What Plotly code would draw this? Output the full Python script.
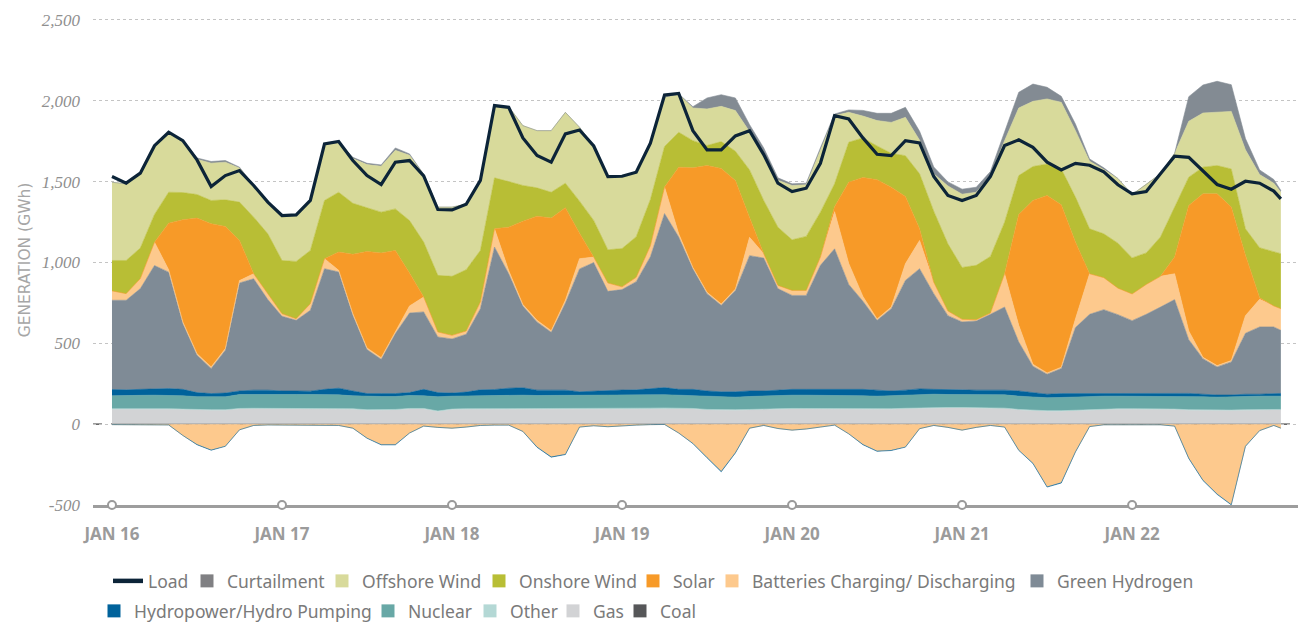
import plotly.graph_objects as go

# time axis: hours since Jan 16 00:00
hours = list(range(0, 165, 2)) + [165]
day_ticks = [0, 24, 48, 72, 96, 120, 144]
day_labels = ["JAN 16", "JAN 17", "JAN 18", "JAN 19", "JAN 20", "JAN 21", "JAN 22"]
y_ticks = [-500, 0, 500, 1000, 1500, 2000, 2500]
y_labels = ["-500", "0", "500", "1,000", "1,500", "2,000", "2,500"]

load = [1531,1490,1552,1722,1805,1753,1634,1469,1537,1568,
        1476,1373,1290,1294,1383,1733,1748,1630,1537,1482,
        1620,1630,1535,1327,1325,1360,1507,1970,1959,1770,
        1661,1620,1795,1819,1720,1531,1533,1558,1737,2035,
        2045,1815,1696,1696,1782,1815,1667,1490,1438,1459,
        1613,1908,1887,1770,1669,1661,1753,1739,1531,1414,
        1383,1414,1531,1723,1758,1712,1620,1572,1613,1601,
        1560,1480,1424,1438,1548,1657,1650,1568,1482,1453,
        1502,1490,1441,1393]

curtailment = [0,0,0,0,0,5,8,10,10,5,
               0,0,0,0,0,0,0,8,8,8,
               15,8,0,0,0,0,0,0,0,0,
               0,0,0,0,0,0,0,0,0,0,
               0,8,68,72,78,45,30,15,10,10,
               10,10,15,35,45,56,62,55,42,25,
               31,31,25,52,97,107,72,37,41,14,
               11,0,0,0,0,0,152,173,192,165,
               70,29,23,11]

offshore = [484,474,463,425,365,321,218,231,233,211,
            196,196,278,288,309,350,309,276,267,284,
            362,404,419,422,428,405,433,447,463,370,
            354,381,438,457,460,453,448,401,350,305,
            237,202,226,218,251,235,295,290,336,319,
            387,422,185,135,157,191,237,208,231,358,
            453,452,500,504,418,403,402,412,411,418,
            397,400,392,424,391,333,346,335,329,356,
            488,452,424,380]

onshore = [188,205,189,172,191,168,146,144,165,237,
           350,370,329,354,329,360,370,316,270,253,
           257,325,340,350,365,379,319,315,282,221,
           175,160,152,198,227,205,237,251,286,251,
           216,168,124,166,182,294,329,360,313,334,
           278,142,247,245,209,210,252,340,439,415,
           321,336,350,319,240,210,195,222,278,278,
           271,278,223,195,243,309,175,165,175,236,
           163,309,335,340]

solar = [0,0,0,0,288,632,838,885,755,248,
         0,0,0,0,0,0,113,367,597,647,
         502,203,0,0,0,0,0,0,268,515,
         644,696,572,158,0,0,0,0,0,0,
         412,616,784,838,671,123,0,0,0,0,
         0,30,502,735,861,741,416,72,0,0,
         0,0,0,0,686,1013,1097,1004,476,0,
         0,0,0,0,0,103,776,1011,1062,949,
         374,10,0,0]

batteries_discharge = [58,41,62,144,15,10,10,10,10,15,
                       31,37,16,10,41,62,10,10,10,10,
                       12,44,92,31,22,20,41,113,20,10,
                       10,10,17,63,34,52,17,27,68,164,
                       20,8,8,8,8,113,27,20,31,31,
                       51,230,130,30,8,10,103,175,71,29,
                       16,8,8,206,103,12,8,8,53,251,
                       198,164,165,185,190,160,54,8,8,8,
                       109,171,130,134]

batteries_charge = [-3,-3,-3,-3,-5,-70,-125,-158,-135,-35,
                    -8,-5,-5,-8,-5,-5,-8,-25,-85,-125,
                    -125,-55,-12,-20,-25,-18,-8,-6,-6,-45,
                    -140,-200,-185,-18,-10,-16,-10,-6,-3,-2,
                    -55,-118,-205,-290,-175,-25,-8,-27,-37,-30,
                    -18,-6,-60,-125,-165,-160,-140,-28,-8,-20,
                    -37,-20,-8,-18,-160,-240,-385,-360,-170,-15,
                    -4,-3,-2,-3,-4,-12,-210,-345,-430,-495,
                    -135,-40,-8,-25]

green_hydrogen = [552,554,623,763,720,407,231,155,265,668,
                  689,560,462,437,500,746,719,468,272,212,
                  371,492,479,344,335,358,502,881,708,505,
                  422,358,539,760,794,611,621,669,815,1076,
                  942,746,602,535,627,837,822,628,581,581,
                  767,869,649,545,432,509,679,743,592,456,
                  420,428,469,514,303,163,124,155,408,490,
                  519,485,448,487,532,578,332,220,174,205,
                  377,416,411,390]

hydropower = [39,34,37,39,41,40,25,20,23,22,
              26,26,21,22,21,32,41,30,18,18,
              18,18,40,26,19,23,35,37,45,46,
              33,33,33,23,28,33,33,33,39,44,
              36,38,34,33,33,34,30,33,36,36,
              36,36,36,40,37,28,30,35,30,32,
              29,27,27,29,32,28,22,24,20,18,
              16,19,19,19,19,19,19,16,13,13,
              14,12,17,17]

hydro_pumping = [0,0,0,0,0,0,-2,-3,-2,0,
                 0,0,0,0,0,0,0,0,-2,-3,
                 -3,0,0,0,0,0,0,0,0,0,
                 -3,-4,-3,0,0,0,0,0,0,0,
                 0,-2,-3,-4,-3,0,0,0,0,0,
                 0,0,0,-2,-3,-3,-2,0,0,0,
                 0,0,0,0,-2,-3,-4,-4,-2,0,
                 0,0,0,0,0,0,-2,-3,-4,-4,
                 -2,0,0,0]

nuclear = [80,82,82,84,84,82,80,80,80,86,
           86,86,86,84,84,84,82,80,82,82,
           80,80,78,88,80,80,82,82,82,84,
           82,82,82,82,82,82,82,82,82,82,
           80,80,80,78,78,80,80,82,82,82,
           82,82,82,80,80,82,82,82,82,80,
           80,80,82,82,82,82,80,82,82,80,
           78,78,78,78,78,80,82,82,80,80,
           82,82,82,82]

other = [3,3,3,3,3,3,3,3,3,3,
         3,3,3,3,3,3,3,3,3,3,
         3,3,3,3,3,3,3,3,3,3,
         3,3,3,3,3,3,4,5,5,4,
         3,3,3,3,3,3,3,3,3,3,
         3,3,3,3,3,3,3,3,3,3,
         3,3,3,3,3,3,3,3,3,3,
         3,3,3,3,3,3,3,3,3,3,
         3,3,3,3]

gas = [92,93,93,92,92,90,87,86,86,94,
       95,95,95,96,96,96,96,92,86,86,
       88,94,94,78,90,92,92,92,92,92,
       92,92,92,92,92,92,92,92,94,96,
       96,94,88,86,86,88,92,92,94,94,
       94,94,94,92,90,92,95,98,100,100,
       100,100,98,96,88,82,80,80,84,88,
       92,92,92,92,92,90,86,84,84,84,
       86,88,88,88]

coal = [0,0,0,0,0,0,0,0,0,0,
        0,0,0,0,0,0,0,0,0,0,
        0,0,0,0,0,0,0,0,0,0,
        0,0,0,0,0,0,0,0,0,0,
        0,0,0,0,0,0,0,0,0,0,
        0,0,0,0,0,0,0,0,0,0,
        0,0,0,0,0,0,0,0,0,0,
        0,0,0,0,0,0,0,0,0,0,
        0,0,0,0]

COLORS = {
    "Load": "#0c2438",
    "Curtailment": "#838b93",
    "Offshore Wind": "#d8da9b",
    "Onshore Wind": "#b8be35",
    "Solar": "#f79a28",
    "Batteries Charging/ Discharging": "#fdc98d",
    "Green Hydrogen": "#7f8b96",
    "Hydropower/Hydro Pumping": "#00629b",
    "Nuclear": "#68a8a6",
    "Other": "#b4d8d5",
    "Gas": "#d2d3d5",
    "Coal": "#565759",
}
LEGEND_SWATCH = {"Curtailment": "#808083"}
LEGEND_ITEMS = list(COLORS)

# page is drawn with an 8px body margin: size the figure to fill the window
FIG_W, FIG_H, OFF = 1298, 614, 8
# legend layout: (text start x, row centre y) in window pixels
LEGEND_POS = [(148, 581), (227, 581), (362, 581), (519, 581), (673, 581),
              (752, 581), (1057, 581),
              (134, 611), (408, 611), (510, 611), (593, 611), (660, 611)]

fig = go.Figure()


def area(name, values, group):
    c = COLORS[name]
    fig.add_trace(go.Scatter(
        x=hours, y=values, name=name, mode="lines",
        stackgroup=group, line=dict(color=c, width=0.6),
        fillcolor=c, showlegend=False, hoverinfo="skip",
    ))


# positive stack (bottom to top)
area("Coal", coal, "pos")
area("Gas", gas, "pos")
area("Other", other, "pos")
area("Nuclear", nuclear, "pos")
area("Hydropower/Hydro Pumping", hydropower, "pos")
area("Green Hydrogen", green_hydrogen, "pos")
area("Batteries Charging/ Discharging", batteries_discharge, "pos")
area("Solar", solar, "pos")
area("Onshore Wind", onshore, "pos")
area("Offshore Wind", offshore, "pos")
area("Curtailment", curtailment, "pos")
# negative stack
area("Batteries Charging/ Discharging", batteries_charge, "neg")
area("Hydropower/Hydro Pumping", hydro_pumping, "neg")

fig.add_trace(go.Scatter(
    x=hours, y=load, name="Load", mode="lines",
    line=dict(color=COLORS["Load"], width=3.2),
    showlegend=False, hoverinfo="skip",
))

# day markers on the bottom axis line
fig.add_trace(go.Scatter(
    x=day_ticks, y=[-500] * len(day_ticks), mode="markers",
    marker=dict(symbol="circle", size=8, color="white",
                line=dict(color="#9a9a9a", width=2)),
    showlegend=False, hoverinfo="skip", cliponaxis=False,
))

legend_layouts = {}
for i, name in enumerate(LEGEND_ITEMS):
    lid = "legend" if i == 0 else f"legend{i + 1}"
    if name == "Load":
        fig.add_trace(go.Scatter(
            x=[None], y=[None], mode="lines", name=name,
            line=dict(color=COLORS[name], width=4.5),
            legend=lid, hoverinfo="skip"))
    else:
        fig.add_trace(go.Scatter(
            x=[None], y=[None], mode="markers", name=name,
            marker=dict(symbol="square", size=13,
                        color=LEGEND_SWATCH.get(name, COLORS[name])),
            legend=lid, hoverinfo="skip"))
    tx, ty = LEGEND_POS[i]
    legend_layouts[lid] = dict(
        orientation="h", xref="container", yref="container",
        x=(tx - 40 - OFF) / FIG_W, y=1 - (ty - OFF) / FIG_H,
        xanchor="left", yanchor="middle", itemwidth=30,
        font=dict(family="Noto Sans", size=17.5, color="#7a7a7a"),
        bgcolor="rgba(0,0,0,0)", borderwidth=0,
    )

fig.add_shape(type="line", xref="paper", x0=0, x1=1, yref="y", y0=0, y1=0,
              line=dict(color="#3a3a3a", width=1.3, dash="dash"), layer="below")

fig.update_layout(
    width=FIG_W, height=FIG_H,
    margin=dict(l=93 - OFF, r=6, t=15 - OFF, b=FIG_H + OFF - 505),
    paper_bgcolor="white", plot_bgcolor="white",
    font=dict(family="Noto Sans", color="#7a7a7a"),
    showlegend=True,
    xaxis=dict(
        range=[-2.68, 167.7], tickvals=day_ticks, ticktext=day_labels,
        tickfont=dict(family="Noto Sans", size=17, color="#9b9b9b", weight="bold"),
        showgrid=False, zeroline=False, showline=True,
        linecolor="#9d9d9d", linewidth=3, ticks="",
        ticklabelstandoff=12, layer="below traces", automargin=False,
    ),
    yaxis=dict(
        range=[-500, 2530], tickvals=y_ticks, ticktext=y_labels,
        tickfont=dict(family="Liberation Serif", size=17, color="#8f8f8f", style="italic"),
        showgrid=True, gridcolor="#c4c4c4", griddash="dot", gridwidth=1,
        zeroline=False, ticks="", ticklabelstandoff=12, automargin=False,
        title=dict(text="GENERATION (GWh)", standoff=7,
                   font=dict(family="DejaVu Sans", size=15.5, color="#a6a6a6")),
    ),
    **legend_layouts,
)

fig.write_html("out.html")
